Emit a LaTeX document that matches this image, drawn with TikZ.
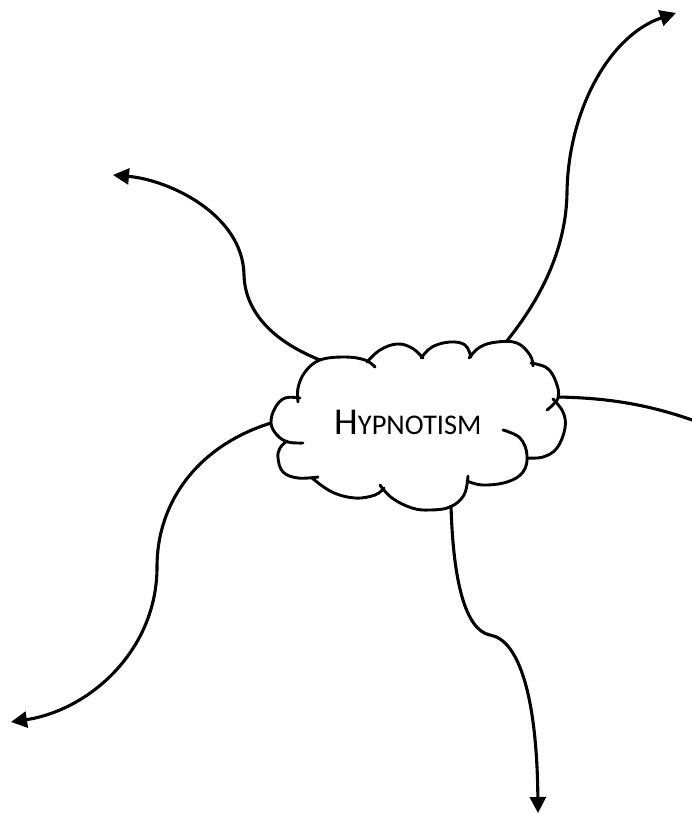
\documentclass[tikz,border=0pt]{standalone}
\usepackage{fontspec}
\setmainfont{Carlito}
\usetikzlibrary{arrows.meta}
\tikzset{
  bump/.style={line width=2.9pt, line cap=round, smooth, tension=0.65},
  link/.style={line width=3.1pt, -{Triangle[length=16pt,width=16pt]}},
  plainlink/.style={line width=3.1pt},
}
\begin{document}
\begin{tikzpicture}[x=1pt,y=-1pt]
\useasboundingbox (0,0) rectangle (691,814);
% cloud outline made of bumps
\draw[bump] plot coordinates {(298,402) (298,388) (305,372) (320,360) (345,357) (365,360) (375,367)};
\draw[bump] plot coordinates {(367,362) (380,350) (397,344) (412,348) (423,358)};
\draw[bump] plot coordinates {(421,358) (432,347) (450,342) (465,345) (471,357)};
\draw[bump] plot coordinates {(469,358) (480,347) (497,342) (517,343) (530,355) (533,366)};
\draw[bump] plot coordinates {(531,363) (547,368) (556,382) (558,398) (547,410)};
\draw[bump] plot coordinates {(553,399) (563,412) (565,428) (557,448) (543,457) (527,458)};
\draw[bump] plot coordinates {(503,430) (520,438) (527,455) (523,472) (507,482) (483,485) (467,481)};
\draw[bump] plot coordinates {(468,476) (464,495) (450,507) (430,510) (412,508) (392,498) (380,485)};
\draw[bump] plot coordinates {(384,488) (375,495) (355,498) (332,492) (312,478)};
\draw[bump] plot coordinates {(287,441) (280,448) (278,458) (283,472) (298,478) (318,477)};
\draw[bump] plot coordinates {(300,398) (285,398) (275,408) (271,423) (277,435) (288,442) (303,443)};
% label
\node[anchor=base west, inner sep=0pt] (label) at (334,434)
  {{\fontsize{38}{38}\selectfont H}{\fontsize{28.5}{28.5}\selectfont YPNOTISM}};
% attachment points on the cloud and free ends
\coordinate (aTR) at (506,342);
\coordinate (aTL) at (320,360);
\coordinate (aR) at (558,397);
\coordinate (aL) at (271,423);
\coordinate (aB) at (451,505);
\coordinate (eTR) at (676,13);
\coordinate (eTL) at (113,175);
\coordinate (eR) at (695,421);
\coordinate (eL) at (11,722);
\coordinate (eB) at (538,813);
% connectors
\draw[link] (aTR) .. controls (540,300) and (566,250) .. (567,193)
  .. controls (568,110) and (610,35) .. (eTR);
\draw[link] (aTL) .. controls (270,340) and (245,310) .. (244,275)
  .. controls (243,215) and (170,180) .. (eTL);
\draw[plainlink] (aR) .. controls (610,398) and (650,405) .. (eR);
\draw[link] (aL) .. controls (200,445) and (157,500) .. (157,567)
  .. controls (157,650) and (90,710) .. (eL);
\draw[link] (aB) .. controls (453,580) and (465,630) .. (490,635)
  .. controls (520,640) and (537,700) .. (eB);
\end{tikzpicture}
\end{document}
